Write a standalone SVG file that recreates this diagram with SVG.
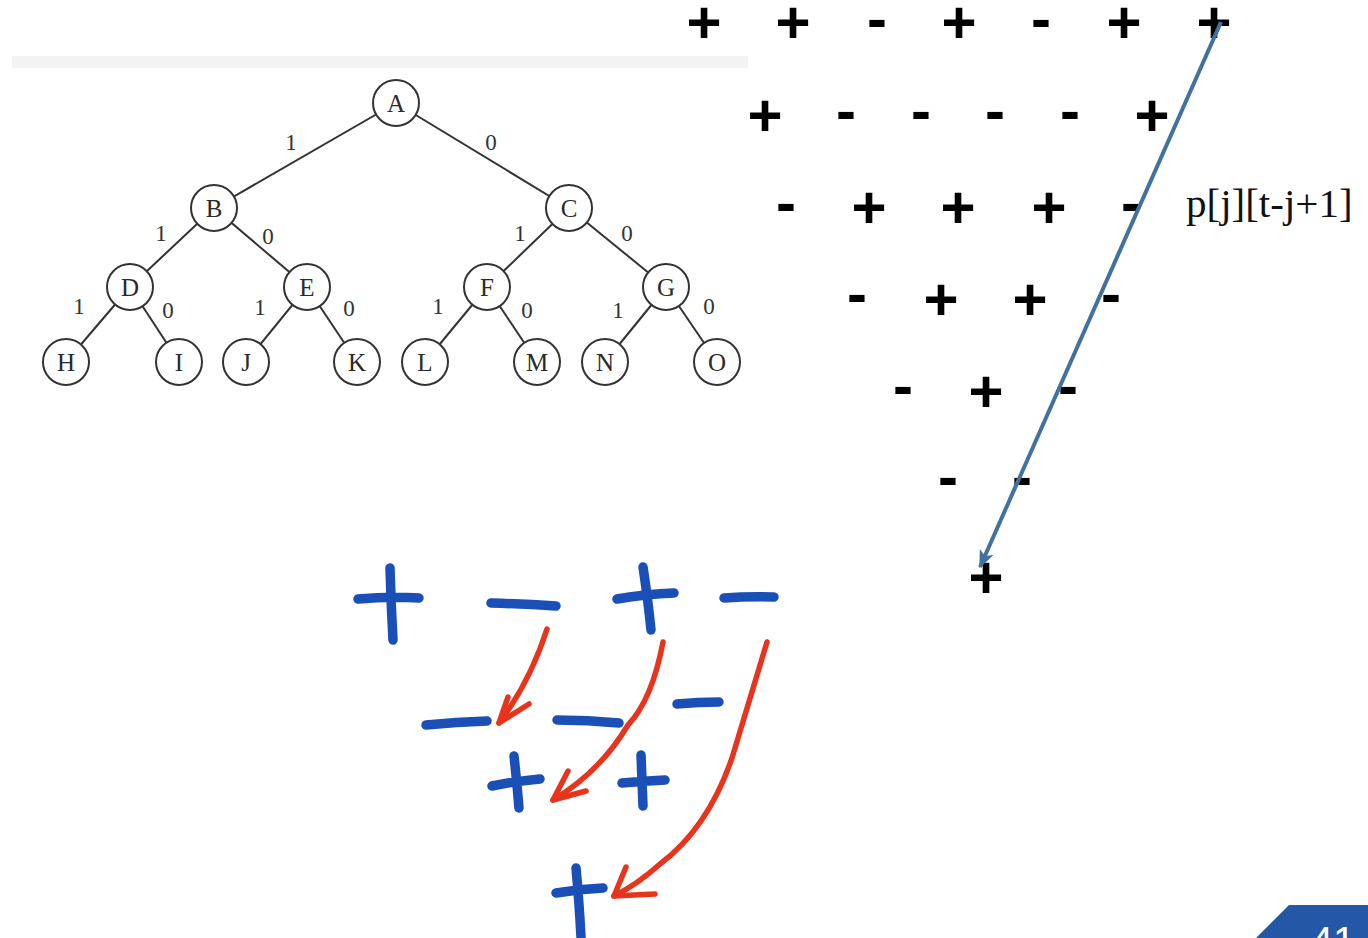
<svg xmlns="http://www.w3.org/2000/svg" width="1368" height="938" viewBox="0 0 1368 938">
  <style>
    .edge { stroke: #333333; stroke-width: 2; fill: none; }
    .node circle { fill: #ffffff; stroke: #333333; stroke-width: 2; }
    .node text { font-family: "Liberation Serif", serif; font-size: 25px; fill: #2a2a2a; text-anchor: middle; }
    .bit { font-family: "Liberation Serif", serif; font-size: 23px; fill: #333; text-anchor: middle; }
    .sg { font-family: "Liberation Sans", Arial, sans-serif; font-weight: bold; font-size: 60px; fill: #000; text-anchor: middle; }
    .ink { fill: none; stroke: #1b4fb8; stroke-width: 9.5; stroke-linecap: round; stroke-linejoin: round; }
    .pen { fill: none; stroke: #e8341c; stroke-width: 5.5; stroke-linecap: round; stroke-linejoin: round; }
  </style>
  <defs>
    <marker id="stealth" viewBox="0 0 12 10" refX="11" refY="5" markerWidth="4.5" markerHeight="4.5" orient="auto" markerUnits="strokeWidth">
      <path d="M0,0 L12,5 L0,10 L3,5 Z" fill="#41719c"/>
    </marker>
  </defs>
  <rect width="1368" height="938" fill="#ffffff"/>

  <!-- faint strip above the binary tree -->
  <rect x="12" y="56" width="736" height="12" fill="#f3f3f3"/>

  <!-- tree edges -->
  <g id="connectors">
    <line class="edge" x1="396" y1="103" x2="214" y2="208"/>
    <line class="edge" x1="396" y1="103" x2="569" y2="208"/>
    <line class="edge" x1="214" y1="208" x2="130" y2="287"/>
    <line class="edge" x1="214" y1="208" x2="307" y2="287"/>
    <line class="edge" x1="569" y1="208" x2="487" y2="287"/>
    <line class="edge" x1="569" y1="208" x2="666" y2="287"/>
    <line class="edge" x1="130" y1="287" x2="66" y2="362"/>
    <line class="edge" x1="130" y1="287" x2="179" y2="362"/>
    <line class="edge" x1="307" y1="287" x2="246" y2="362"/>
    <line class="edge" x1="307" y1="287" x2="357" y2="362"/>
    <line class="edge" x1="487" y1="287" x2="425" y2="362"/>
    <line class="edge" x1="487" y1="287" x2="537" y2="362"/>
    <line class="edge" x1="666" y1="287" x2="605" y2="362"/>
    <line class="edge" x1="666" y1="287" x2="717" y2="362"/>
  </g>

  <!-- edge bits -->
  <g id="bits">
    <text class="bit" x="291" y="150">1</text>
    <text class="bit" x="491" y="150">0</text>
    <text class="bit" x="161" y="241">1</text>
    <text class="bit" x="268" y="244">0</text>
    <text class="bit" x="520" y="241">1</text>
    <text class="bit" x="627" y="241">0</text>
    <text class="bit" x="79" y="314">1</text>
    <text class="bit" x="168" y="318">0</text>
    <text class="bit" x="260" y="315">1</text>
    <text class="bit" x="349" y="316">0</text>
    <text class="bit" x="438" y="314">1</text>
    <text class="bit" x="527" y="318">0</text>
    <text class="bit" x="618" y="318">1</text>
    <text class="bit" x="709" y="314">0</text>
  </g>

  <!-- tree nodes -->
  <g id="node-A" class="node"><circle cx="396" cy="103" r="23"/><text x="396" y="112">A</text></g>
  <g id="node-B" class="node"><circle cx="214" cy="208" r="23"/><text x="214" y="217">B</text></g>
  <g id="node-C" class="node"><circle cx="569" cy="208" r="23"/><text x="569" y="217">C</text></g>
  <g id="node-D" class="node"><circle cx="130" cy="287" r="23"/><text x="130" y="296">D</text></g>
  <g id="node-E" class="node"><circle cx="307" cy="287" r="23"/><text x="307" y="296">E</text></g>
  <g id="node-F" class="node"><circle cx="487" cy="287" r="23"/><text x="487" y="296">F</text></g>
  <g id="node-G" class="node"><circle cx="666" cy="287" r="23"/><text x="666" y="296">G</text></g>
  <g id="node-H" class="node"><circle cx="66" cy="362" r="23"/><text x="66" y="371">H</text></g>
  <g id="node-I" class="node"><circle cx="179" cy="362" r="23"/><text x="179" y="371">I</text></g>
  <g id="node-J" class="node"><circle cx="246" cy="362" r="23"/><text x="246" y="371">J</text></g>
  <g id="node-K" class="node"><circle cx="357" cy="362" r="23"/><text x="357" y="371">K</text></g>
  <g id="node-L" class="node"><circle cx="425" cy="362" r="23"/><text x="425" y="371">L</text></g>
  <g id="node-M" class="node"><circle cx="537" cy="362" r="23"/><text x="537" y="371">M</text></g>
  <g id="node-N" class="node"><circle cx="605" cy="362" r="23"/><text x="605" y="371">N</text></g>
  <g id="node-O" class="node"><circle cx="717" cy="362" r="23"/><text x="717" y="371">O</text></g>

  <!-- sign triangle -->
  <g id="signs">
    <!-- row 1 -->
    <text class="sg" x="704" y="43">+</text>
    <text class="sg" x="793" y="43">+</text>
    <text class="sg" x="877" y="39">-</text>
    <text class="sg" x="959" y="43">+</text>
    <text class="sg" x="1041" y="39">-</text>
    <text class="sg" x="1124" y="43">+</text>
    <text class="sg" x="1214" y="43">+</text>
    <!-- row 2 -->
    <text class="sg" x="765" y="136">+</text>
    <text class="sg" x="846" y="131">-</text>
    <text class="sg" x="921" y="131">-</text>
    <text class="sg" x="995" y="131">-</text>
    <text class="sg" x="1070" y="131">-</text>
    <text class="sg" x="1152" y="136">+</text>
    <!-- row 3 -->
    <text class="sg" x="786" y="223">-</text>
    <text class="sg" x="869" y="228">+</text>
    <text class="sg" x="958" y="228">+</text>
    <text class="sg" x="1049" y="228">+</text>
    <text class="sg" x="1131" y="223">-</text>
    <!-- row 4 -->
    <text class="sg" x="857" y="314">-</text>
    <text class="sg" x="941" y="320">+</text>
    <text class="sg" x="1030" y="320">+</text>
    <text class="sg" x="1111" y="314">-</text>
    <!-- row 5 -->
    <text class="sg" x="903" y="406">-</text>
    <text class="sg" x="986" y="412">+</text>
    <text class="sg" x="1068" y="406">-</text>
    <!-- row 6 -->
    <text class="sg" x="948" y="497">-</text>
    <text class="sg" x="1022" y="497">-</text>
    <!-- row 7 -->
    <text class="sg" x="986" y="598">+</text>
  </g>

  <!-- diagonal pointer -->
  <g id="diagonal">
    <line x1="1221" y1="22" x2="980" y2="567" stroke="#41719c" stroke-width="4" marker-end="url(#stealth)"/>
    <text x="1186" y="217" font-family="Liberation Serif, serif" font-size="41" fill="#111">p[j][t-j+1]</text>
  </g>

  <!-- handwritten signs -->
  <g id="handwriting">
    <path class="ink" d="M358,599 Q390,596 419,598 M390,568 Q391,605 393,640"/>
    <path class="ink" d="M491,603 Q525,604 556,606"/>
    <path class="ink" d="M617,599 Q646,594 674,593 M643,567 Q648,600 651,630"/>
    <path class="ink" d="M724,598 Q750,596 774,597"/>
    <path class="ink" d="M426,725 Q456,722 487,721"/>
    <path class="ink" d="M557,720 Q588,720 619,723"/>
    <path class="ink" d="M677,704 Q698,702 719,702"/>
    <path class="ink" d="M492,786 Q516,781 540,779 M514,756 Q517,783 519,808"/>
    <path class="ink" d="M622,783 Q644,781 665,780 M641,755 Q642,781 643,806"/>
    <path class="ink" d="M556,893 Q580,889 603,888 M576,868 Q579,900 581,937"/>
  </g>

  <!-- handwritten arrows -->
  <g id="pen-arrows">
    <path class="pen" d="M547,629 Q530,682 499,723"/>
    <path class="pen" d="M508,697 L499,723 L529,704"/>
    <path class="pen" d="M663,642 Q652,700 628,725 Q600,772 553,800"/>
    <path class="pen" d="M568,771 L553,800 L586,791"/>
    <path class="pen" d="M767,642 Q748,705 732,758 Q708,828 660,864 Q638,884 614,896"/>
    <path class="pen" d="M626,867 L614,896 L655,894"/>
  </g>

  <!-- page tab -->
  <g id="page-tab">
    <polygon points="1256,938 1289,905 1368,905 1368,938" fill="#2358a6"/>
    <text x="1333" y="955" font-family="Liberation Sans, Arial, sans-serif" font-size="40" fill="#ffffff" text-anchor="middle">41</text>
  </g>
</svg>
